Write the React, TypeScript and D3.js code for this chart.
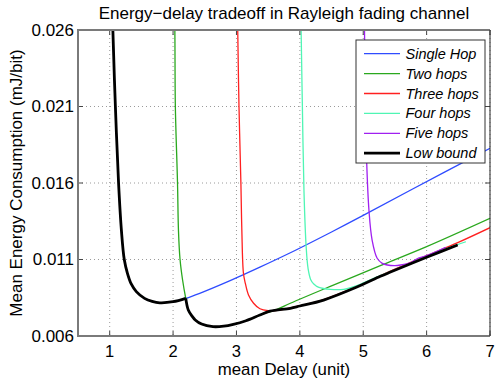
import * as d3 from 'd3';

// axis ticks
const xTicks = [1, 2, 3, 4, 5, 6, 7];
const yTicks = [0.006, 0.011, 0.016, 0.021, 0.026];

// curves (delay, energy)
const singleHopX = [1.035, 1.05, 1.09, 1.14, 1.185, 1.23, 1.28, 1.34, 1.42, 1.55, 1.67, 1.79, 2.0, 2.2, 2.42, 2.9, 3.37, 3.85, 4.5, 5.0, 5.75, 7.0];
const singleHopY = [0.029, 0.026, 0.021, 0.016, 0.0129, 0.011, 0.0101, 0.0094, 0.0089, 0.00846, 0.00826, 0.00817, 0.00824, 0.00846, 0.00879, 0.00962, 0.0105, 0.01144, 0.0128, 0.01388, 0.01554, 0.01827];

const twoHopsX = [2.015, 2.028, 2.036, 2.07, 2.085, 2.11, 2.15, 2.2, 2.24, 2.3, 2.35, 2.45, 2.63, 2.8, 2.95, 3.15, 3.37, 3.64, 3.85, 4.5, 5.27, 6.0, 7.0];
const twoHopsY = [0.029, 0.026, 0.021, 0.016, 0.0129, 0.011, 0.00966, 0.00846, 0.0077, 0.0073, 0.00705, 0.00678, 0.00661, 0.00664, 0.00676, 0.007, 0.00737, 0.00774, 0.00814, 0.00928, 0.0106, 0.01184, 0.01369];

const threeHopsX = [3.012, 3.02, 3.04, 3.07, 3.085, 3.11, 3.14, 3.19, 3.27, 3.37, 3.5, 3.65, 3.85, 4.375, 4.9, 5.43, 6.0, 6.5, 7.0];
const threeHopsY = [0.029, 0.026, 0.021, 0.016, 0.0129, 0.0101, 0.00944, 0.00868, 0.00814, 0.00778, 0.00766, 0.00768, 0.00784, 0.00838, 0.00924, 0.01024, 0.01125, 0.01212, 0.01308];

const fourHopsX = [4.012, 4.02, 4.04, 4.065, 4.1, 4.13, 4.17, 4.22, 4.3, 4.48, 4.69, 4.9, 5.2, 5.6, 6.0, 6.3, 6.62];
const fourHopsY = [0.029, 0.026, 0.021, 0.0155, 0.0118, 0.0104, 0.0097, 0.0094, 0.00918, 0.00905, 0.00905, 0.0093, 0.00983, 0.0105, 0.0112, 0.0117, 0.01216];

const fiveHopsX = [5.012, 5.02, 5.035, 5.055, 5.09, 5.14, 5.22, 5.3, 5.38, 5.5, 5.59, 5.75, 5.85, 6.0, 6.3];
const fiveHopsY = [0.029, 0.026, 0.021, 0.0173, 0.01424, 0.01227, 0.01108, 0.01075, 0.01064, 0.0106, 0.01064, 0.0108, 0.01105, 0.01125, 0.0118];

const lowBoundX = [1.035, 1.05, 1.09, 1.14, 1.185, 1.23, 1.28, 1.34, 1.42, 1.55, 1.67, 1.79, 2.0, 2.2, 2.24, 2.3, 2.35, 2.45, 2.63, 2.8, 2.95, 3.15, 3.37, 3.53, 3.85, 4.0, 4.375, 4.9, 5.27, 5.43, 6.0, 6.49];
const lowBoundY = [0.029, 0.026, 0.021, 0.016, 0.0129, 0.011, 0.0101, 0.0094, 0.0089, 0.00846, 0.00826, 0.00817, 0.00824, 0.00846, 0.0077, 0.0073, 0.00705, 0.00678, 0.00661, 0.00664, 0.00676, 0.007, 0.00737, 0.00762, 0.00781, 0.00796, 0.00835, 0.0092, 0.0099, 0.01018, 0.01115, 0.01195];
const lowBoundKink = 2.2; // where the bound switches from one hop to two

const seriesNames = ['Single Hop', 'Two hops', 'Three hops', 'Four hops', 'Five hops', 'Low bound'];
const seriesColors = ['#2f4cff', '#2aa81e', '#ff2020', '#4ff5b4', '#a020f0', '#000000'];

const width = 498;
const height = 383;
const left = 78;
const right = 490;
const top = 30;
const bottom = 336;
const font = '"Liberation Sans", Arial, Helvetica, sans-serif';

const App = () => {
  const x = d3.scaleLinear([0.5, 7], [left, right]);
  const y = d3.scaleLinear([0.006, 0.026], [bottom, top]);

  const line = d3
    .line<[number, number]>()
    .curve(d3.curveCatmullRom.alpha(0.5))
    .x((d) => x(d[0]))
    .y((d) => y(d[1]));

  const zip = (xs: number[], ys: number[]) => xs.map((v, i) => [v, ys[i]] as [number, number]);

  const curves = [
    zip(singleHopX, singleHopY),
    zip(twoHopsX, twoHopsY),
    zip(threeHopsX, threeHopsY),
    zip(fourHopsX, fourHopsY),
    zip(fiveHopsX, fiveHopsY),
  ];
  const bound = zip(lowBoundX, lowBoundY);
  const boundA = bound.filter((d) => d[0] <= lowBoundKink);
  const boundB = bound.filter((d) => d[0] >= lowBoundKink);

  const legX = 356;
  const legY = 40;
  const legW = 129;
  const legH = 123;

  return (
    <svg
      width={width}
      height={height}
      style={{ position: 'absolute', left: 0, top: 0, background: '#fff' }}
      fontFamily={font}
    >
      <defs>
        <clipPath id="plot">
          <rect x={left} y={top} width={right - left} height={bottom - top} />
        </clipPath>
      </defs>
      <rect x={0} y={0} width={width} height={height} fill="#fff" />

      {/* grid */}
      <g stroke="#9a9a9a" strokeDasharray="1,3" strokeWidth={1}>
        {xTicks.map((t) => (
          <line key={'gx' + t} x1={x(t)} x2={x(t)} y1={top} y2={bottom} />
        ))}
        {yTicks.map((t) => (
          <line key={'gy' + t} x1={left} x2={right} y1={y(t)} y2={y(t)} />
        ))}
      </g>

      {/* curves */}
      <g clipPath="url(#plot)" fill="none" strokeLinejoin="round">
        {curves.map((c, i) => (
          <path key={i} d={line(c) ?? ''} stroke={seriesColors[i]} strokeWidth={1.3} />
        ))}
        <path d={line(boundA) ?? ''} stroke="#000" strokeWidth={2.8} />
        <path d={line(boundB) ?? ''} stroke="#000" strokeWidth={2.8} />
      </g>

      {/* ticks */}
      <g stroke="#444" strokeWidth={1}>
        {xTicks.map((t) => (
          <g key={'tx' + t}>
            <line x1={x(t)} x2={x(t)} y1={bottom} y2={bottom - 5} />
            <line x1={x(t)} x2={x(t)} y1={top} y2={top + 5} />
          </g>
        ))}
        {yTicks.map((t) => (
          <g key={'ty' + t}>
            <line x1={left} x2={left + 5} y1={y(t)} y2={y(t)} />
            <line x1={right} x2={right - 5} y1={y(t)} y2={y(t)} />
          </g>
        ))}
      </g>

      {/* frame */}
      <g fill="none">
        <line x1={left} x2={left} y1={top - 1} y2={bottom + 1} stroke="#7a7a7a" strokeWidth={2} />
        <line x1={left - 1} x2={right} y1={bottom} y2={bottom} stroke="#7a7a7a" strokeWidth={2} />
        <line x1={left - 1} x2={right} y1={top} y2={top} stroke="#7a7a7a" strokeWidth={2} />
        <line x1={right} x2={right} y1={top} y2={bottom} stroke="#222" strokeWidth={1} />
      </g>

      {/* tick labels */}
      <g fill="#000">
        {xTicks.map((t) => (
          <text key={'lx' + t} x={x(t)} y={357} textAnchor="middle" fontSize={16.5}>
            {d3.format('d')(t)}
          </text>
        ))}
        {yTicks.map((t) => (
          <text key={'ly' + t} x={74} y={y(t)} dy="0.35em" textAnchor="end" fontSize={17}>
            {d3.format('.3f')(t)}
          </text>
        ))}
      </g>

      {/* titles */}
      <text x={(left + right) / 2} y={18.5} textAnchor="middle" fontSize={17}>
        Energy−delay tradeoff in Rayleigh fading channel
      </text>
      <text x={(left + right) / 2} y={375} textAnchor="middle" fontSize={16.8}>
        mean Delay (unit)
      </text>
      <text
        transform={`translate(22,${(top + bottom) / 2}) rotate(-90)`}
        textAnchor="middle"
        fontSize={17}
      >
        Mean Energy Consumption (mJ/bit)
      </text>

      {/* legend */}
      <g>
        <rect x={legX} y={legY} width={legW} height={legH} fill="#fff" stroke="#333" strokeWidth={1} />
        {seriesNames.map((name, i) => {
          const ly = legY + 13.7 + i * 19.9;
          return (
            <g key={name}>
              <line
                x1={legX + 8}
                x2={legX + 44}
                y1={ly}
                y2={ly}
                stroke={seriesColors[i]}
                strokeWidth={i === 5 ? 2.8 : 1.3}
              />
              <text x={legX + 49.5} y={ly} dy="0.35em" fontSize={14.5} fontStyle="italic">
                {name}
              </text>
            </g>
          );
        })}
      </g>
    </svg>
  );
};

export default App;
